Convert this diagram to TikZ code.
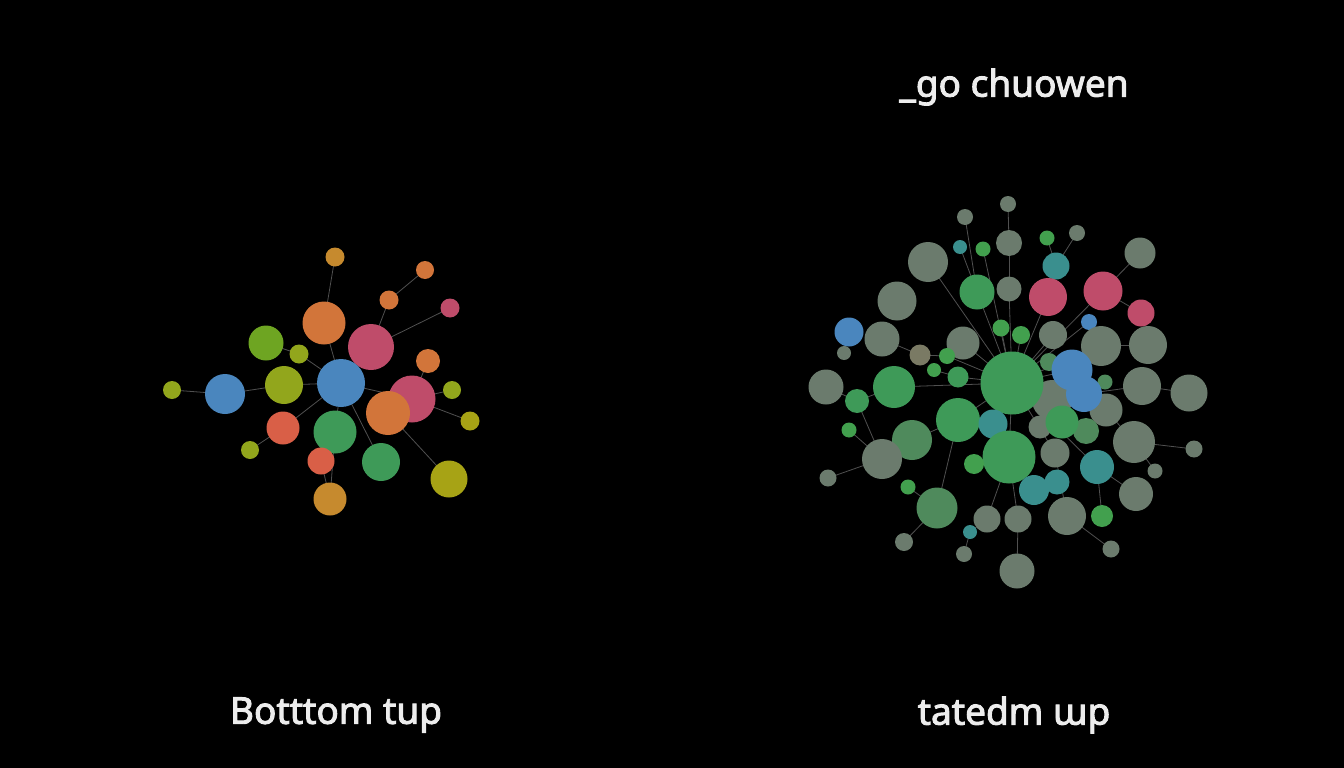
\documentclass[tikz,border=0pt]{standalone}
\usepackage{fontspec}
\setmainfont{Noto Sans}
\newfontfamily\lblfont[BoldFont=*,BoldFeatures={FakeBold=2.5}]{Noto Sans}
\pgfdeclarelayer{bg}
\pgfsetlayers{bg,main}
\definecolor{lnk}{HTML}{505050}
\definecolor{txt}{HTML}{EDEDED}
\definecolor{cOr}{HTML}{D2753A}
\definecolor{cGo}{HTML}{C68A2E}
\definecolor{cPk}{HTML}{BF4C6A}
\definecolor{cLi}{HTML}{6EA522}
\definecolor{cLy}{HTML}{92A61C}
\definecolor{cOl}{HTML}{A7A315}
\definecolor{cBl}{HTML}{4A86BE}
\definecolor{cRd}{HTML}{D95F47}
\definecolor{cGn}{HTML}{3E9A58}
\definecolor{cGy}{HTML}{6B7B6D}
\definecolor{cGg}{HTML}{4F8A5C}
\definecolor{cTl}{HTML}{3A8F8E}
\definecolor{cBr}{HTML}{7A7A64}
\definecolor{cG2}{HTML}{42A04E}
\tikzset{
  dot/.style={circle,inner sep=0pt,draw=none},
  lk/.style={draw=lnk,line width=0.8pt},
  lbl/.style={text=txt,font=\lblfont\bfseries\fontsize{37}{43}\selectfont,inner sep=0pt}
}
\newcommand\bub[5]{\node[dot,fill=#2,minimum size={2*#3pt}] (#1) at (#4,#5) {};}
\begin{document}
\begin{tikzpicture}[x=1pt,y=-1pt]
\begin{pgfonlayer}{bg}
\fill[black] (0,0) rectangle (1344,768);
\end{pgfonlayer}
\useasboundingbox (0,0) rectangle (1344,768);
% ---------- left cluster ----------
\bub{a1}{cGo}{9.5}{335}{257}
\bub{a2}{cOr}{9}{425}{270}
\bub{a3}{cOr}{9.5}{389}{300}
\bub{a4}{cPk}{9.5}{450}{308}
\bub{a5}{cOr}{21.5}{324}{323}
\bub{a6}{cPk}{23}{371}{347}
\bub{a7}{cLi}{17.5}{266}{343}
\bub{a8}{cLy}{9.5}{299}{354}
\bub{a10}{cOr}{12}{428}{361}
\bub{a11}{cPk}{23.5}{412}{399}
\bub{a9}{cBl}{24}{341}{383}
\bub{a12}{cLy}{9}{452}{390}
\bub{a13}{cOl}{9.5}{470}{421}
\bub{a14}{cLy}{9}{172}{390}
\bub{a15}{cBl}{20}{225}{394}
\bub{a16}{cLy}{19}{284}{385}
\bub{a17}{cOr}{22}{388}{413}
\bub{a18}{cRd}{16.5}{283}{428}
\bub{a19}{cGn}{21.5}{335}{432}
\bub{a20}{cLy}{9}{250}{450}
\bub{a22}{cGn}{19}{381}{462}
\bub{a23}{cOl}{18.5}{449}{479}
\bub{a24}{cGo}{16.5}{330}{499}
\bub{a21}{cRd}{13.5}{321}{461}
\begin{pgfonlayer}{bg}
\draw[lk] (a1.center)--(a5.center);
\draw[lk] (a2.center)--(a3.center);
\draw[lk] (a3.center)--(a6.center);
\draw[lk] (a4.center)--(a6.center);
\draw[lk] (a5.center)--(a9.center);
\draw[lk] (a7.center)--(a8.center);
\draw[lk] (a8.center)--(a9.center);
\draw[lk] (a14.center)--(a15.center);
\draw[lk] (a15.center)--(a16.center);
\draw[lk] (a16.center)--(a9.center);
\draw[lk] (a18.center)--(a9.center);
\draw[lk] (a18.center)--(a20.center);
\draw[lk] (a9.center)--(a19.center);
\draw[lk] (a9.center)--(a11.center);
\draw[lk] (a9.center)--(a22.center);
\draw[lk] (a10.center)--(a11.center);
\draw[lk] (a12.center)--(a11.center);
\draw[lk] (a13.center)--(a11.center);
\draw[lk] (a17.center)--(a23.center);
\draw[lk] (a19.center)--(a24.center);
\draw[lk] (a21.center)--(a24.center);
\end{pgfonlayer}
% ---------- right cluster ----------
\bub{r1}{cGy}{8}{1008}{204}
\bub{r2}{cGy}{8}{965}{217}
\bub{r3}{cGy}{8}{1077}{233}
\bub{r4}{cG2}{7.5}{1047}{238}
\bub{r5}{cTl}{7}{960}{247}
\bub{r6}{cG2}{7.5}{983}{249}
\bub{r7}{cGy}{13}{1009}{243}
\bub{r8}{cGy}{20}{928}{262}
\bub{r9}{cGy}{15.5}{1140}{253}
\bub{r10}{cTl}{13.5}{1056}{266}
\bub{r11}{cGn}{17.5}{977}{292}
\bub{r12}{cGy}{12.5}{1009}{289}
\bub{r13}{cPk}{19}{1048}{297}
\bub{r14}{cPk}{19.5}{1103}{291}
\bub{r15}{cPk}{13.5}{1141}{313}
\bub{r16}{cGy}{19.5}{897}{301}
\bub{r17}{cBl}{14.5}{849}{332}
\bub{r18}{cGy}{17.5}{882}{339}
\bub{r19}{cGy}{7}{844}{353}
\bub{r20}{cBl}{8}{1089}{322}
\bub{r21}{cG2}{8.5}{1001}{328}
\bub{r22}{cG2}{9}{1021}{335}
\bub{r23}{cGy}{14}{1053}{335}
\bub{r24}{cGy}{16.5}{963}{343}
\bub{r25}{cGy}{20}{1101}{346}
\bub{r26}{cGy}{19}{1148}{345}
\bub{r27}{cBr}{10.5}{920}{355}
\bub{r28}{cG2}{8}{947}{356}
\bub{r29}{cG2}{7}{934}{370}
\bub{r30}{cGg}{9}{1049}{362}
\bub{r40}{cGy}{20}{1052}{400}
\bub{r41}{cGy}{16.5}{1106}{410}
\bub{r31}{cBl}{20.5}{1072}{370}
\bub{r39}{cGg}{7.5}{1105}{382}
\bub{r38}{cBl}{18}{1084}{394}
\bub{r32}{cGn}{31.5}{1012}{383}
\bub{r33}{cGn}{10.5}{958}{377}
\bub{r34}{cGy}{17.5}{826}{387}
\bub{r35}{cGn}{21}{894}{387}
\bub{r36}{cGy}{19}{1142}{386}
\bub{r37}{cGy}{18.5}{1189}{393}
\bub{r42}{cGn}{12}{857}{401}
\bub{r46}{cGy}{11.5}{1040}{427}
\bub{r47}{cGg}{13}{1086}{431}
\bub{r45}{cGn}{16.5}{1062}{422}
\bub{r43}{cGn}{22}{958}{420}
\bub{r44}{cTl}{14.5}{993}{424}
\bub{r48}{cGy}{21}{1134}{442}
\bub{r49}{cG2}{7.5}{849}{430}
\bub{r50}{cGg}{20}{912}{440}
\bub{r51}{cGy}{20}{882}{459}
\bub{r52}{cGn}{26.5}{1009}{457}
\bub{r53}{cGy}{14.5}{1055}{453}
\bub{r54}{cTl}{17}{1097}{467}
\bub{r55}{cG2}{10}{974}{464}
\bub{r56}{cGy}{8.5}{1194}{449}
\bub{r57}{cGy}{7.5}{1155}{471}
\bub{r58}{cGy}{8.5}{828}{478}
\bub{r59}{cG2}{7.5}{908}{487}
\bub{r60}{cTl}{15}{1034}{490}
\bub{r61}{cTl}{12.5}{1057}{482}
\bub{r62}{cGy}{17}{1136}{494}
\bub{r63}{cGg}{20.5}{937}{508}
\bub{r64}{cGy}{13.5}{987}{519}
\bub{r65}{cGy}{13.5}{1018}{519}
\bub{r66}{cGy}{19}{1067}{516}
\bub{r67}{cG2}{11}{1102}{516}
\bub{r68}{cTl}{7}{970}{532}
\bub{r69}{cGy}{9}{904}{542}
\bub{r70}{cGy}{8.5}{1111}{549}
\bub{r71}{cGy}{8}{964}{554}
\bub{r72}{cGy}{17.5}{1017}{571}
\begin{pgfonlayer}{bg}
\draw[lk] (r1.center)--(r7.center);
\draw[lk] (r7.center)--(r12.center);
\draw[lk] (r12.center)--(r32.center);
\draw[lk] (r2.center)--(r11.center);
\draw[lk] (r5.center)--(r11.center);
\draw[lk] (r6.center)--(r32.center);
\draw[lk] (r4.center)--(r10.center);
\draw[lk] (r3.center)--(r10.center);
\draw[lk] (r10.center)--(r13.center);
\draw[lk] (r13.center)--(r32.center);
\draw[lk] (r14.center)--(r32.center);
\draw[lk] (r9.center)--(r14.center);
\draw[lk] (r14.center)--(r15.center);
\draw[lk] (r8.center)--(r32.center);
\draw[lk] (r11.center)--(r32.center);
\draw[lk] (r21.center)--(r32.center);
\draw[lk] (r22.center)--(r32.center);
\draw[lk] (r17.center)--(r19.center);
\draw[lk] (r18.center)--(r27.center);
\draw[lk] (r27.center)--(r28.center);
\draw[lk] (r28.center)--(r32.center);
\draw[lk] (r24.center)--(r32.center);
\draw[lk] (r33.center)--(r32.center);
\draw[lk] (r29.center)--(r33.center);
\draw[lk] (r35.center)--(r32.center);
\draw[lk] (r34.center)--(r42.center);
\draw[lk] (r42.center)--(r35.center);
\draw[lk] (r42.center)--(r51.center);
\draw[lk] (r49.center)--(r51.center);
\draw[lk] (r50.center)--(r43.center);
\draw[lk] (r58.center)--(r51.center);
\draw[lk] (r43.center)--(r32.center);
\draw[lk] (r43.center)--(r63.center);
\draw[lk] (r69.center)--(r63.center);
\draw[lk] (r59.center)--(r63.center);
\draw[lk] (r44.center)--(r32.center);
\draw[lk] (r52.center)--(r32.center);
\draw[lk] (r64.center)--(r52.center);
\draw[lk] (r65.center)--(r52.center);
\draw[lk] (r72.center)--(r65.center);
\draw[lk] (r68.center)--(r64.center);
\draw[lk] (r71.center)--(r68.center);
\draw[lk] (r53.center)--(r32.center);
\draw[lk] (r66.center)--(r53.center);
\draw[lk] (r70.center)--(r66.center);
\draw[lk] (r54.center)--(r32.center);
\draw[lk] (r62.center)--(r54.center);
\draw[lk] (r48.center)--(r56.center);
\draw[lk] (r48.center)--(r41.center);
\draw[lk] (r57.center)--(r48.center);
\draw[lk] (r41.center)--(r32.center);
\draw[lk] (r36.center)--(r37.center);
\draw[lk] (r36.center)--(r38.center);
\draw[lk] (r26.center)--(r25.center);
\draw[lk] (r25.center)--(r32.center);
\draw[lk] (r23.center)--(r32.center);
\draw[lk] (r20.center)--(r32.center);
\draw[lk] (r31.center)--(r32.center);
\draw[lk] (r60.center)--(r52.center);
\draw[lk] (r61.center)--(r60.center);
\draw[lk] (r67.center)--(r54.center);
\end{pgfonlayer}
% ---------- labels ----------
\node[lbl] (t1) at (1014,87) {\_go chuowen};
\node[lbl] (t2) at (336,715) {Botttom tup};
\node[lbl] (t3) at (1014,715) {tatedm ɯp};
\end{tikzpicture}
\end{document}
